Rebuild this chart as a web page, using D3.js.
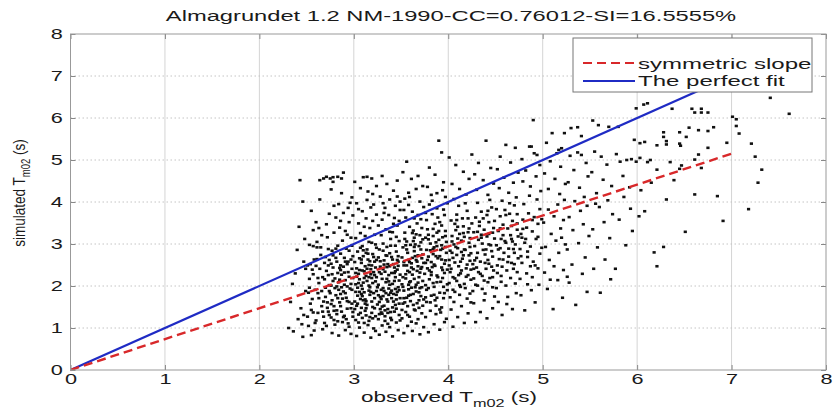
<!DOCTYPE html>
<html>
<head>
<meta charset="utf-8">
<script src="https://cdn.jsdelivr.net/npm/d3@7"></script>
<style>
  body { margin: 0; background: #fff; }
  text { font-family: "Liberation Sans", Arial, sans-serif; fill: #1a1a1a; }
</style>
</head>
<body>
<svg id="chart" width="835" height="413"></svg>
<script>
const chartTitle = "Almagrundet 1.2 NM-1990-CC=0.76012-SI=16.5555%";
const xTicks = [0, 1, 2, 3, 4, 5, 6, 7, 8];
const yTicks = [0, 1, 2, 3, 4, 5, 6, 7, 8];
const legendNames = ["symmetric slope", "The perfect fit"];

// fitted lines, end points in data units
const symLine = [[0, 0], [7, 5.15]];
const fitLine = [[0, 0], [7, 7]];

// [observed, simulated]
const scatterPts = [
[2.31,1.00],[2.36,0.92],[2.46,0.79],[2.33,1.62],[2.38,2.30],[2.41,1.21],[2.43,4.52],[2.46,4.01],[2.47,2.58],[2.44,1.47],[2.49,1.88],[2.40,2.86],[2.48,3.12],[2.35,2.05],[2.45,1.09],[2.42,3.41],[2.49,2.41],[2.47,1.31],
[2.55,0.83],[2.52,1.05],[2.58,0.94],[2.64,4.52],[2.64,4.06],[2.57,3.33],[2.53,2.98],[2.57,2.95],[2.61,2.92],[2.51,2.49],[2.54,2.52],[2.60,1.18],[2.62,1.36],[2.66,1.52],[2.68,1.27],[2.70,1.74],[2.72,1.61],[2.56,1.69],[2.59,1.91],[2.63,2.07],[2.67,2.21],[2.71,2.36],[2.74,2.02],[2.53,2.17],[2.58,2.63],[2.65,2.74],[2.69,2.55],[2.73,2.88],[2.61,3.05],[2.66,3.21],[2.71,3.47],[2.74,3.72],[2.68,4.56],[2.71,4.60],[2.55,1.43],[2.62,1.83],[2.69,1.12],[2.73,1.39],[2.57,2.28],[2.64,2.41],[2.70,1.96],[2.52,1.84],[2.67,0.97],[2.74,2.62],[2.60,3.52],
[2.75,4.56],[2.78,4.59],[2.83,4.60],[2.89,4.70],[2.87,4.56],[2.78,4.48],[2.76,4.30],[2.87,4.21],[2.98,4.11],[2.96,3.98],
[2.77,0.88],[2.84,0.82],[2.91,0.95],[2.97,0.86],[2.80,1.08],[2.88,1.14],[2.95,1.03],
[2.76,1.25],[2.79,1.41],[2.82,1.33],[2.86,1.52],[2.90,1.29],[2.93,1.46],[2.99,1.38],
[2.77,1.66],[2.81,1.78],[2.85,1.61],[2.89,1.87],[2.92,1.72],[2.96,1.94],[2.98,1.58],
[2.76,2.01],[2.80,2.18],[2.84,2.09],[2.87,2.27],[2.91,2.14],[2.94,2.33],[2.97,2.05],
[2.78,2.44],[2.82,2.58],[2.86,2.49],[2.90,2.67],[2.93,2.52],[2.99,2.71],
[2.77,2.84],[2.83,2.96],[2.88,3.08],[2.92,2.89],[2.97,3.15],
[2.79,3.27],[2.85,3.39],[2.91,3.31],[2.95,3.52],
[2.81,3.63],[2.89,3.74],[2.94,3.86],[2.84,3.95],
[2.80,1.95],[2.88,1.70],[2.95,2.22],[2.83,2.31],[2.92,1.21],[2.86,2.77],[2.98,2.41],
[3.10,4.59],[3.14,4.60],[3.19,4.56],[3.24,4.38],[3.15,4.25],[3.20,4.19],[3.01,4.48],[3.07,4.33],
[3.03,0.81],[3.11,0.89],[3.18,0.77],[3.23,0.93],[3.06,1.01],[3.15,1.07],[3.21,0.99],
[3.02,1.19],[3.05,1.32],[3.09,1.24],[3.12,1.41],[3.16,1.17],[3.19,1.36],[3.23,1.28],[3.08,1.48],[3.14,1.55],[3.20,1.50],
[3.01,1.63],[3.04,1.77],[3.07,1.69],[3.11,1.85],[3.13,1.64],[3.17,1.79],[3.22,1.71],[3.24,1.88],[3.09,1.93],
[3.02,2.04],[3.06,2.16],[3.10,2.08],[3.13,2.24],[3.16,2.01],[3.19,2.19],[3.23,2.11],[3.05,2.29],[3.21,2.33],
[3.03,2.42],[3.08,2.55],[3.12,2.47],[3.15,2.63],[3.18,2.40],[3.22,2.58],[3.10,2.71],
[3.04,2.82],[3.09,2.95],[3.14,2.87],[3.19,3.03],[3.24,2.91],
[3.02,3.14],[3.07,3.26],[3.12,3.19],[3.17,3.38],[3.22,3.22],
[3.05,3.49],[3.13,3.61],[3.20,3.55],[3.09,3.78],[3.18,3.87],[3.24,3.70],[3.03,3.97],[3.14,4.05],
[3.11,1.12],[3.17,1.97],[3.06,2.38],[3.20,2.76],[3.12,1.58],[3.08,2.01],[3.16,2.50],
[3.31,3.97],[3.28,4.13],[3.38,4.06],[3.46,4.13],[3.49,4.01],[3.35,4.43],[3.46,4.51],[3.30,4.62],[3.42,4.27],
[3.27,0.84],[3.34,0.91],[3.41,0.80],[3.47,0.95],[3.30,1.06],[3.38,1.02],[3.45,1.13],
[3.26,1.21],[3.29,1.37],[3.33,1.28],[3.36,1.45],[3.40,1.19],[3.43,1.39],[3.48,1.31],[3.32,1.53],
[3.27,1.62],[3.31,1.76],[3.35,1.68],[3.39,1.84],[3.42,1.63],[3.45,1.79],[3.49,1.71],[3.37,1.94],
[3.26,2.03],[3.30,2.17],[3.34,2.09],[3.37,2.26],[3.41,2.05],[3.44,2.21],[3.48,2.13],[3.33,2.34],[3.46,2.39],
[3.28,2.46],[3.32,2.61],[3.36,2.52],[3.40,2.69],[3.43,2.44],[3.47,2.58],[3.38,2.78],
[3.27,2.87],[3.31,3.01],[3.35,2.93],[3.39,3.12],[3.44,2.96],[3.48,3.07],
[3.29,3.21],[3.34,3.35],[3.41,3.28],[3.46,3.44],
[3.30,3.58],[3.37,3.69],[3.43,3.62],[3.49,3.81],[3.33,3.86],
[3.36,1.10],[3.44,1.55],[3.29,1.91],[3.40,2.31],[3.35,2.72],[3.47,1.97],[3.26,2.68],[3.42,3.48],[3.39,1.24],[3.31,2.40],[3.45,2.82],[3.28,1.45],
[3.56,4.96],[3.52,4.71],[3.61,4.55],[3.68,4.62],[3.73,4.38],[3.58,4.22],[3.66,4.31],[3.54,4.08],
[3.53,0.88],[3.62,0.93],[3.70,0.85],[3.57,1.05],[3.66,1.11],[3.74,1.02],
[3.51,1.23],[3.55,1.38],[3.59,1.27],[3.64,1.44],[3.68,1.21],[3.72,1.35],
[3.52,1.58],[3.56,1.72],[3.60,1.64],[3.63,1.81],[3.67,1.59],[3.71,1.76],[3.74,1.68],[3.58,1.92],
[3.51,2.04],[3.55,2.18],[3.59,2.09],[3.62,2.27],[3.66,2.03],[3.69,2.21],[3.73,2.12],[3.57,2.36],[3.71,2.41],
[3.53,2.49],[3.58,2.62],[3.61,2.54],[3.65,2.71],[3.68,2.47],[3.72,2.66],[3.64,2.83],
[3.52,2.92],[3.56,3.06],[3.60,2.98],[3.64,3.15],[3.69,2.95],[3.73,3.11],
[3.54,3.27],[3.59,3.41],[3.63,3.32],[3.67,3.49],[3.72,3.38],
[3.55,3.63],[3.62,3.77],[3.68,3.69],[3.74,3.88],[3.58,3.93],
[3.69,1.48],[3.53,1.89],[3.63,2.40],[3.70,1.95],[3.57,2.79],[3.66,3.23],[3.74,2.55],[3.61,1.15],[3.71,3.59],[3.65,1.97],
[3.90,5.46],[3.93,5.18],[3.80,4.82],[3.86,4.65],[3.95,4.47],[3.78,4.36],[3.88,4.21],[3.97,4.12],[3.83,4.03],
[3.79,0.90],[3.91,0.96],[3.85,1.09],[3.96,1.14],
[3.76,1.26],[3.81,1.41],[3.87,1.33],[3.93,1.49],[3.98,1.22],
[3.77,1.62],[3.82,1.77],[3.86,1.66],[3.91,1.84],[3.95,1.71],[3.99,1.90],
[3.76,2.02],[3.80,2.16],[3.84,2.07],[3.88,2.25],[3.92,2.10],[3.96,2.31],[3.99,2.04],
[3.78,2.42],[3.82,2.57],[3.86,2.48],[3.89,2.66],[3.93,2.44],[3.97,2.61],[3.84,2.76],
[3.77,2.86],[3.81,3.01],[3.85,2.92],[3.90,3.10],[3.94,2.89],[3.98,3.05],
[3.79,3.22],[3.84,3.36],[3.88,3.27],[3.93,3.44],[3.97,3.31],
[3.77,3.57],[3.83,3.71],[3.89,3.63],[3.95,3.82],[3.80,3.94],
[3.87,1.53],[3.94,2.19],[3.79,2.70],[3.91,3.52],[3.85,1.98],[3.98,2.79],[3.76,3.15],[3.92,1.37],[3.82,2.33],[3.96,3.69],[3.88,2.95],
[4.01,5.06],[4.25,5.13],[4.08,4.88],[4.16,4.72],[4.22,4.55],[4.04,4.43],[4.12,4.31],[4.19,4.18],[4.06,4.07],
[4.05,1.03],[4.17,1.12],[4.10,1.26],[4.21,1.35],[4.03,1.44],[4.14,1.52],[4.24,1.61],
[4.02,1.73],[4.07,1.86],[4.12,1.79],[4.18,1.95],[4.23,1.82],
[4.01,2.07],[4.05,2.21],[4.09,2.12],[4.13,2.30],[4.17,2.05],[4.21,2.26],[4.24,2.15],
[4.03,2.41],[4.07,2.56],[4.11,2.47],[4.15,2.65],[4.19,2.42],[4.23,2.60],[4.09,2.74],
[4.02,2.84],[4.06,2.99],[4.10,2.90],[4.14,3.08],[4.18,2.86],[4.22,3.03],
[4.04,3.19],[4.08,3.33],[4.12,3.24],[4.16,3.42],[4.21,3.28],
[4.03,3.56],[4.09,3.70],[4.15,3.61],[4.20,3.79],[4.11,3.91],
[4.06,1.62],[4.20,1.70],[4.14,2.37],[4.01,2.62],[4.23,3.14],[4.07,3.48],[4.18,3.97],[4.12,2.02],[4.24,2.78],
[4.40,5.46],[4.32,4.93],[4.45,4.81],[4.28,4.66],[4.37,4.52],[4.48,4.44],[4.30,4.29],[4.42,4.17],
[4.29,1.14],[4.41,1.23],[4.34,1.38],[4.47,1.47],[4.27,1.59],[4.38,1.66],[4.49,1.75],
[4.26,1.88],[4.31,2.01],[4.36,1.93],[4.42,2.09],[4.47,1.97],
[4.27,2.18],[4.32,2.33],[4.36,2.24],[4.40,2.41],[4.44,2.19],[4.48,2.37],
[4.26,2.52],[4.30,2.67],[4.34,2.58],[4.39,2.75],[4.43,2.53],[4.47,2.70],[4.37,2.86],
[4.28,2.95],[4.32,3.10],[4.36,3.01],[4.41,3.18],[4.45,2.97],[4.49,3.13],
[4.27,3.28],[4.33,3.43],[4.38,3.34],[4.43,3.52],[4.48,3.38],
[4.29,3.63],[4.35,3.77],[4.41,3.69],[4.46,3.87],[4.31,3.98],[4.44,4.05],
[4.39,1.82],[4.30,2.44],[4.46,2.83],[4.35,3.22],[4.42,2.62],
[4.61,5.36],[4.71,5.29],[4.55,5.08],[4.66,4.94],[4.52,4.78],[4.74,4.70],[4.59,4.58],[4.69,4.46],[4.54,4.33],[4.64,4.22],
[4.57,1.31],[4.68,1.45],[4.53,1.62],[4.63,1.74],[4.72,1.83],
[4.51,1.95],[4.56,2.10],[4.61,2.01],[4.66,2.19],[4.71,2.06],
[4.52,2.31],[4.57,2.46],[4.62,2.37],[4.67,2.55],[4.73,2.33],
[4.54,2.64],[4.59,2.79],[4.64,2.70],[4.69,2.88],[4.74,2.66],
[4.51,2.97],[4.56,3.12],[4.61,3.03],[4.66,3.21],[4.71,2.99],
[4.53,3.31],[4.58,3.46],[4.63,3.37],[4.68,3.55],[4.73,3.34],
[4.55,3.66],[4.60,3.81],[4.65,3.72],[4.70,3.92],[4.57,4.03],[4.72,4.11],
[4.62,1.57],[4.70,2.52],[4.55,2.90],[4.67,3.12],
[4.90,5.95],[4.86,5.32],[4.91,5.16],[4.88,5.32],[4.94,5.12],[4.78,5.02],[4.97,4.88],[4.82,4.75],[4.93,4.61],[4.79,4.49],[4.87,4.37],[4.98,4.26],
[4.81,1.42],[4.92,1.61],[4.77,1.78],[4.88,1.90],[4.96,2.03],
[4.76,2.17],[4.83,2.30],[4.89,2.21],[4.95,2.42],
[4.78,2.55],[4.84,2.69],[4.90,2.58],[4.97,2.77],
[4.76,2.88],[4.81,3.03],[4.87,2.94],[4.93,3.12],[4.99,2.91],
[4.77,3.24],[4.83,3.39],[4.89,3.30],[4.95,3.48],
[4.79,3.58],[4.85,3.73],[4.91,3.64],[4.97,3.83],[4.80,3.95],[4.94,4.06],[4.86,4.15],
[4.84,2.04],[4.92,2.49],[4.78,3.15],[4.99,3.59],
[5.10,5.64],[5.23,5.64],[5.17,5.24],[5.20,5.28],[5.15,5.16],[5.04,5.41],[5.08,4.97],[5.19,4.84],[5.02,4.68],[5.13,4.55],[5.24,4.43],[5.06,4.31],[5.18,4.19],
[5.11,1.45],[5.21,1.72],[5.05,1.93],[5.16,2.14],
[5.02,2.32],[5.12,2.47],[5.22,2.38],[5.07,2.62],[5.17,2.79],
[5.03,2.93],[5.14,3.08],[5.24,2.99],[5.09,3.24],[5.19,3.37],
[5.01,3.51],[5.12,3.66],[5.22,3.57],[5.06,3.82],[5.16,3.94],[5.23,4.05],
[5.08,2.15],[5.20,3.15],
[5.30,5.76],[5.37,5.78],[5.41,5.57],[5.37,5.18],[5.41,5.12],[5.29,5.10],[5.46,4.93],[5.33,4.76],[5.48,4.61],[5.27,4.47],[5.39,4.34],[5.44,4.12],
[5.35,1.55],[5.47,1.86],[5.28,2.08],[5.42,2.29],
[5.31,2.51],[5.45,2.68],[5.26,2.87],[5.38,3.02],[5.49,3.19],
[5.32,3.33],[5.43,3.47],[5.28,3.64],[5.40,3.79],[5.47,3.91],[5.34,4.02],[5.26,2.22],
[5.53,5.94],[5.59,5.83],[5.70,5.79],[5.55,5.20],[5.62,5.08],[5.68,4.89],[5.52,4.71],[5.64,4.53],[5.73,4.38],[5.57,4.21],
[5.61,1.84],[5.72,2.16],[5.54,2.41],[5.66,2.63],
[5.58,2.92],[5.71,3.14],[5.53,3.35],[5.65,3.52],[5.74,3.71],[5.60,3.88],[5.69,4.04],[5.56,3.96],
[5.80,5.79],[5.99,6.23],[5.97,5.48],[5.78,5.14],[5.82,4.96],[5.89,5.00],[5.94,5.02],[5.99,4.96],[5.85,4.62],[5.92,4.35],
[5.77,2.41],[5.88,2.97],[5.95,3.31],[5.81,3.58],[5.93,3.84],[5.86,4.12],
[6.03,5.40],[7.41,6.48],[7.61,6.10],[7.01,6.03],[7.05,5.97],[7.05,5.81],[7.08,5.63],[7.21,5.39],[6.95,5.41],[7.25,5.08],[7.32,4.77],[7.28,4.46],[7.18,3.83],[6.91,3.55],[6.85,4.14],[6.61,4.18],[6.51,3.29],[6.31,4.06],[6.28,2.93],[6.18,2.80],[6.21,2.47],[6.08,3.78],
[6.75,5.29],[6.81,5.78],[6.75,5.69],[6.68,6.13],[6.68,6.22],[6.61,6.13],[6.58,6.22],[6.75,6.13],[6.55,5.77],[6.65,5.71],[6.45,5.66],[6.28,5.66],[6.28,5.55],[6.31,5.45],[6.31,5.37],[6.45,5.39],[6.46,5.34],[6.52,5.55],[6.21,5.35],[6.08,5.43],[6.37,6.22],[6.07,6.32],[6.11,6.35],
[6.65,5.13],[6.61,5.01],[6.68,4.81],[6.47,4.87],[6.45,4.79],[6.35,4.95],[6.21,4.77],[6.14,5.00],[6.11,4.95],[6.03,5.05],
[6.04,4.28],[6.02,3.66],[6.15,4.46],[6.39,4.52],
[2.72,1.48],[2.76,1.57],[2.79,1.19],[2.83,1.71],[2.87,1.39],[2.91,1.83],[2.95,1.62],[2.99,1.27],
[2.74,1.88],[2.78,2.12],[2.82,1.99],[2.86,2.38],[2.90,2.03],[2.94,2.58],[2.98,1.91],
[2.73,2.26],[2.81,2.67],[2.85,2.15],[2.89,2.46],[2.93,1.99],[2.97,2.63],
[3.01,1.45],[3.04,1.58],[3.07,1.36],[3.10,1.66],[3.13,1.30],[3.16,1.89],[3.19,1.63],[3.22,1.47],[3.25,1.97],
[3.02,1.86],[3.05,2.07],[3.08,1.81],[3.11,2.35],[3.14,2.12],[3.17,2.59],[3.20,2.07],[3.23,2.44],
[3.03,2.22],[3.06,2.66],[3.09,2.37],[3.13,2.79],[3.18,2.28],[3.21,2.69],[3.24,2.21],
[3.27,1.33],[3.30,1.51],[3.33,1.42],[3.36,1.63],[3.39,1.38],[3.42,1.81],[3.45,1.46],[3.48,1.90],
[3.28,1.74],[3.31,1.95],[3.34,1.83],[3.37,2.11],[3.40,1.89],[3.43,2.31],[3.46,1.86],[3.49,2.27],
[3.29,2.29],[3.32,2.51],[3.35,2.17],[3.38,2.47],[3.41,2.63],[3.44,2.35],[3.47,2.71],
[3.51,1.43],[3.54,1.61],[3.57,1.52],[3.60,1.79],[3.63,1.55],[3.66,1.87],[3.69,1.66],[3.72,1.97],
[3.52,1.98],[3.55,2.28],[3.58,2.03],[3.61,2.44],[3.64,2.17],[3.67,2.58],[3.70,2.32],[3.73,2.75],
[3.53,2.57],[3.56,2.87],[3.59,2.33],[3.62,2.67],[3.65,2.99],[3.68,2.73],[3.71,3.04],
[3.76,1.73],[3.79,1.95],[3.82,2.26],[3.85,2.51],[3.88,2.09],[3.91,2.71],[3.94,2.38],[3.97,2.93],
[3.78,2.62],[3.81,2.85],[3.84,3.19],[3.87,2.71],[3.90,3.31],[3.93,2.97],[3.96,2.53],
[4.02,2.33],[4.05,2.67],[4.08,2.93],[4.11,2.26],[4.14,2.81],[4.17,3.17],[4.20,2.51],[4.23,2.93],
[4.04,3.06],[4.10,3.41],[4.16,2.73],[4.22,3.37],
[4.27,2.41],[4.31,2.79],[4.35,3.15],[4.39,2.55],[4.43,2.99],[4.47,3.27],
[4.53,2.87],[4.58,3.21],[4.63,2.57],[4.68,3.06],[4.73,3.49],
[4.79,3.36],[4.84,2.82],[4.89,3.57],[4.95,3.17],
[2.51,1.27],[2.54,1.58],[2.56,2.39],[2.59,1.12],[2.61,2.64],[2.63,1.71],[2.65,2.92],[2.67,1.39],[2.69,2.16],[2.71,1.05],[2.73,2.49],[2.75,1.83],[2.77,2.28],[2.79,1.52],[2.81,2.89],[2.83,1.16],[2.85,2.43],[2.87,1.97],[2.89,1.26],[2.91,2.58],[2.93,1.64],[2.95,2.84],[2.97,1.47],[2.99,2.19],[2.53,1.96],[2.57,1.37],[2.62,2.19],[2.66,1.88],[2.70,2.69],[2.74,1.31],[2.78,2.73],[2.82,1.42],[2.86,1.81],[2.90,2.32],[2.94,1.11],[2.98,2.96],[2.60,2.48],[2.68,1.63],[2.76,2.53],[2.84,1.91],
[3.01,2.57],[3.03,1.53],[3.05,1.13],[3.07,2.91],[3.09,1.76],[3.11,2.19],[3.13,1.47],[3.15,2.77],[3.17,1.26],[3.19,2.49],[3.21,1.83],[3.23,2.99],[3.25,1.56],[3.27,2.33],[3.29,1.69],[3.31,2.84],[3.33,1.17],[3.35,2.45],[3.37,1.79],[3.39,2.96],[3.41,1.49],[3.43,2.12],[3.45,1.68],[3.47,2.48],[3.49,1.18],
[3.02,2.31],[3.04,1.96],[3.08,2.63],[3.12,1.68],[3.14,2.41],[3.18,1.86],[3.22,2.26],[3.26,1.78],[3.28,2.59],[3.32,1.88],[3.34,2.73],[3.36,1.36],[3.38,2.03],[3.42,2.52],[3.44,1.93],[3.46,2.62],[3.48,1.58],[3.06,1.86],[3.16,2.21],[3.24,2.62],[3.30,1.34],[3.40,1.71],[3.10,2.85],[3.20,1.23],[3.45,3.17],
[3.51,2.68],[3.53,1.71],[3.55,2.97],[3.57,1.31],[3.59,2.57],[3.61,1.96],[3.63,3.07],[3.65,1.42],[3.67,2.36],[3.69,1.85],[3.71,2.87],[3.73,1.53],[3.75,2.29],[3.77,1.91],[3.79,3.11],[3.81,1.61],[3.83,2.45],[3.85,1.79],[3.87,3.04],[3.89,2.21],[3.91,1.44],[3.93,2.63],[3.95,1.98],[3.97,3.19],[3.99,2.39],
[3.52,2.21],[3.56,2.49],[3.60,2.11],[3.64,2.93],[3.68,2.08],[3.72,2.45],[3.76,2.55],[3.80,2.37],[3.84,2.88],[3.88,1.72],[3.92,2.86],[3.96,1.83],[3.54,3.12],[3.62,3.26],[3.70,3.21],[3.78,3.35],[3.86,3.48],[3.94,3.16],[3.58,1.77],[3.66,2.62],
[4.01,2.49],[4.04,2.79],[4.07,2.18],[4.10,3.13],[4.13,2.58],[4.16,3.26],[4.19,2.22],[4.22,2.73],[4.25,3.49],
[4.05,1.91],[4.09,3.57],[4.13,1.98],[4.17,2.87],[4.21,3.61],[4.24,2.39],
[4.28,2.61],[4.31,3.29],[4.34,2.29],[4.37,3.61],[4.40,2.87],[4.43,3.24],[4.46,2.46],[4.49,3.55],
[4.29,2.03],[4.33,3.53],[4.38,2.13],[4.42,3.79],[4.47,2.21],
[4.52,2.49],[4.55,3.37],[4.58,2.63],[4.61,3.69],[4.64,2.89],[4.67,3.43],[4.70,2.79],[4.73,3.71],
[4.51,3.83],[4.56,2.24],[4.60,3.07],[4.65,3.97],[4.69,2.41],[4.74,3.18],
[4.77,2.71],[4.82,3.12],[4.87,2.47],
[2.55,3.79],[2.63,3.38],[2.72,3.16],[2.79,3.91],[2.86,3.55],[2.93,3.22],[2.99,3.68],[3.05,3.83],[3.11,3.41],[3.16,3.05],[3.21,3.94],[3.26,3.44],[3.32,3.74],[3.38,3.29],[3.44,3.91],[3.48,3.55],[3.53,3.81],[3.59,4.12],[3.64,3.61],[3.70,4.01],[3.76,3.74],[3.82,4.17],[3.88,3.85],[3.94,4.28],[3.99,3.97]
];

const W = 835, H = 413;
const svg = d3.select("#chart");

const x = d3.scaleLinear().domain([0, 8]).range([70.5, 826]);
const y = d3.scaleLinear().domain([0, 8]).range([370, 34]);

const SX = 1.55; // the picture is stretched sideways, so is its text

// grid
let grid = svg.append("g").attr("id", "grid");
grid.selectAll("line.v")
    .data(xTicks.slice(1, -1))
    .join("line")
    .attr("x1", d => x(d)).attr("x2", d => x(d))
    .attr("y1", y(0)).attr("y2", y(8))
    .attr("stroke", "#d4d4d4")
    .attr("stroke-width", 1);
grid.selectAll("line.h")
    .data(yTicks.slice(1, -1))
    .join("line")
    .attr("x1", x(0)).attr("x2", x(8))
    .attr("y1", d => y(d)).attr("y2", d => y(d))
    .attr("stroke", "#c4c4c4")
    .attr("stroke-dasharray", "1.5,2.5")
    .attr("stroke-width", 1);

// points
svg.append("g")
    .selectAll("rect")
    .data(scatterPts)
    .join("rect")
    .attr("x", d => x(d[0]) - 1.6)
    .attr("y", d => y(d[1]) - 1.3)
    .attr("width", 3.2)
    .attr("height", 2.6)
    .attr("fill", "#111");

// lines
const lineGen = d3.line().x(d => x(d[0])).y(d => y(d[1]));
svg.append("path")
    .datum(fitLine)
    .attr("d", lineGen)
    .attr("fill", "none")
    .attr("stroke", "#1f2bc4")
    .attr("stroke-width", 2.2);
svg.append("path")
    .datum(symLine)
    .attr("d", lineGen)
    .attr("fill", "none")
    .attr("stroke", "#d8282a")
    .attr("stroke-width", 2.4)
    .attr("stroke-dasharray", "9,5");

// axes
const axisStyle = (g) => {
    g.select(".domain").remove();
    g.selectAll(".tick line").attr("stroke", "#888");
    g.selectAll(".tick text").attr("font-size", 14).attr("fill", "#1a1a1a");
};

svg.append("g")
    .attr("transform", `translate(0,${y(0)})`)
    .call(d3.axisBottom(x).tickValues(xTicks).tickSize(-5).tickPadding(4).tickFormat(d3.format("d")))
    .call(axisStyle)
    .selectAll(".tick text").attr("transform", `scale(${SX},1)`);

svg.append("g")
    .attr("transform", `translate(0,${y(8)})`)
    .call(d3.axisTop(x).tickValues(xTicks).tickSize(-5).tickFormat(""))
    .call(axisStyle);

svg.append("g")
    .attr("transform", `translate(${x(0)},0)`)
    .call(d3.axisLeft(y).tickValues(yTicks).tickSize(-5).tickPadding(5).tickFormat(d3.format("d")))
    .call(axisStyle)
    .selectAll(".tick text").attr("transform", `scale(${SX},1)`);

svg.append("g")
    .attr("transform", `translate(${x(8)},0)`)
    .call(d3.axisRight(y).tickValues(yTicks).tickSize(-5).tickFormat(""))
    .call(axisStyle);

// frame
svg.append("rect")
    .attr("x", x(0)).attr("y", y(8))
    .attr("width", x(8) - x(0)).attr("height", y(0) - y(8))
    .attr("fill", "none")
    .attr("stroke", "#999")
    .attr("stroke-width", 1);

// title
svg.append("text")
    .attr("transform", `translate(451,21) scale(1.58,1)`)
    .attr("text-anchor", "middle")
    .attr("font-size", 15)
    .text(chartTitle);

// x label
let xl = svg.append("text")
    .attr("transform", `translate(449,402) scale(${SX},1)`)
    .attr("text-anchor", "middle")
    .attr("font-size", 14.5);
xl.append("tspan").text("observed T");
xl.append("tspan").attr("font-size", 10.5).attr("dy", 5).text("m02");
xl.append("tspan").attr("dy", -5).text(" (s)");

// y label
let yl = svg.append("text")
    .attr("transform", `translate(25,193) rotate(-90) scale(1,1.25)`)
    .attr("text-anchor", "middle")
    .attr("font-size", 13.5);
yl.append("tspan").text("simulated T");
yl.append("tspan").attr("font-size", 9.5).attr("dy", 4).text("m02");
yl.append("tspan").attr("dy", -4).text(" (s)");

// legend
let legend = svg.append("g").attr("id", "legend");
legend.append("rect")
    .attr("x", 573).attr("y", 38)
    .attr("width", 239).attr("height", 54)
    .attr("fill", "#fff")
    .attr("stroke", "#777")
    .attr("stroke-width", 1);

const legendRows = [
    {name: legendNames[0], color: "#d8282a", dash: "9,5", ly: 63, ty: 69},
    {name: legendNames[1], color: "#1f2bc4", dash: null, ly: 81, ty: 86}
];
legendRows.forEach(r => {
    legend.append("line")
        .attr("x1", 583).attr("x2", 635)
        .attr("y1", r.ly).attr("y2", r.ly)
        .attr("stroke", r.color)
        .attr("stroke-width", 2.2)
        .attr("stroke-dasharray", r.dash);
    legend.append("text")
        .attr("transform", `translate(638,${r.ty}) scale(${SX},1)`)
        .attr("font-size", 15.5)
        .text(r.name);
});
</script>
</body>
</html>
